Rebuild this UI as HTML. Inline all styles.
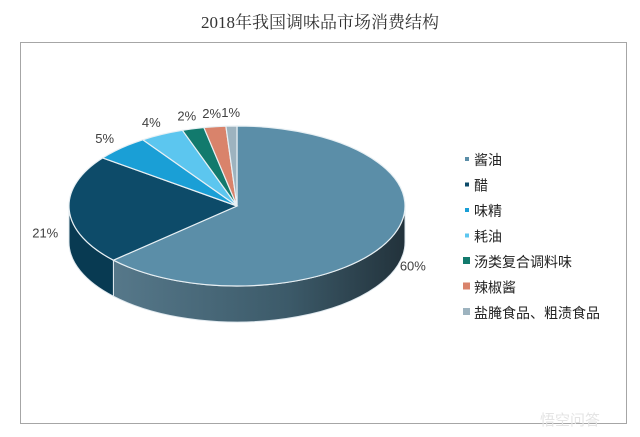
<!DOCTYPE html>
<html><head><meta charset="utf-8"><style>
body{margin:0;width:640px;height:437px;background:#fff;overflow:hidden;font-family:"Liberation Sans","Noto Sans CJK SC",sans-serif}
#title{position:absolute;left:0;width:640px;top:8px;text-align:center;font-family:"Liberation Serif","Noto Serif CJK SC",serif;font-size:17px;color:#333}
#frame{position:absolute;left:20px;top:42px;width:605px;height:380px;border:1px solid #a6a6a6}
svg{position:absolute;left:0;top:0}
</style></head><body>
<div id="title">2018年我国调味品市场消费结构</div>
<div id="frame"></div>
<svg id="chart" width="640" height="437"></svg>
<script>
const categories=["酱油","醋","味精","耗油","汤类复合调料味","辣椒酱","盐腌食品、粗渍食品"];
const values=[60,21,5,4,2,2,1];
const labels=["60%","21%","5%","4%","2%","2%","1%"];
const colors=["#5b8ea8","#0d4b69","#1a9fd6","#5cc6ef","#127a6d","#d9836b","#9db3bf"];
const sideColors=["#3f6374","#083a52","#10759f","#3b98bb","#0a5a50","#a95f4b","#758791"];
const NS="http://www.w3.org/2000/svg";
const svg=document.getElementById('chart');
const cx=237,cy=206,rx=168,ry=80,depth=36;
const total=values.reduce((a,b)=>a+b,0);
function pt(a,dy){return [cx+rx*Math.sin(a),cy-ry*Math.cos(a)+(dy||0)];}
function mk(tag,attrs){const e=document.createElementNS(NS,tag);for(const k in attrs)e.setAttribute(k,attrs[k]);svg.appendChild(e);return e;}
const defs=document.createElementNS(NS,'defs');svg.appendChild(defs);
defs.innerHTML='<linearGradient id="sg0" x1="0" x2="1" y1="0" y2="0"><stop offset="0" stop-color="#56788a"/><stop offset="0.6" stop-color="#3c5a69"/><stop offset="1" stop-color="#22323b"/></linearGradient>';
let angles=[];let acc=0;
values.forEach(v=>{const a0=acc/total*2*Math.PI;acc+=v;angles.push([a0,acc/total*2*Math.PI]);});
// sides (front half: angle between PI/2 and 3PI/2)
angles.forEach(([a0,a1],i)=>{
  const s=Math.max(a0,Math.PI/2),e=Math.min(a1,3*Math.PI/2);
  if(e<=s)return;
  const p0=pt(s),p1=pt(e),q1=pt(e,depth),q0=pt(s,depth);
  const large=(e-s)>Math.PI?1:0;
  const p=mk('path',{d:`M${p0[0]},${p0[1]} A${rx},${ry} 0 ${large} 1 ${p1[0]},${p1[1]} L${q1[0]},${q1[1]} A${rx},${ry} 0 ${large} 0 ${q0[0]},${q0[1]} Z`,fill:i===0?'url(#sg0)':sideColors[i],stroke:'#dfe8ee','stroke-width':1});
  
  
});
// top faces
angles.forEach(([a0,a1],i)=>{
  const p0=pt(a0),p1=pt(a1);const large=(a1-a0)>Math.PI?1:0;
  const p=mk('path',{d:`M${cx},${cy} L${p0[0]},${p0[1]} A${rx},${ry} 0 ${large} 1 ${p1[0]},${p1[1]} Z`,fill:colors[i],stroke:'#e8f0f4','stroke-width':1.2});
  
  
});
// labels
angles.forEach(([a0,a1],i)=>{
  const m=(a0+a1)/2;
  let x=cx+(rx+24)*Math.sin(m),y=cy-(ry+14)*Math.cos(m)+5;
  if(Math.cos(m)<0)y+=depth*0.6;
  const t=mk('text',{x:x,y:y,'text-anchor':'middle','font-size':13,fill:'#404040'});
  t.textContent=labels[i];
  
  
});
// legend
categories.forEach((c,i)=>{
  const y=160+i*25.5;
  const big=i>=4;
  const r=mk('rect',{x:big?463:465,y:y-(big?5:3),width:big?7:4,height:big?7:4,fill:colors[i]});
  
  
  const t=mk('text',{x:474,y:y+5,'font-size':14,fill:'#222'});
  t.textContent=c;
  
  
});
const w=mk('text',{x:540,y:425,'font-size':15,fill:'#e4e4e4'});
w.textContent='悟空问答';


</script>
</body></html>
